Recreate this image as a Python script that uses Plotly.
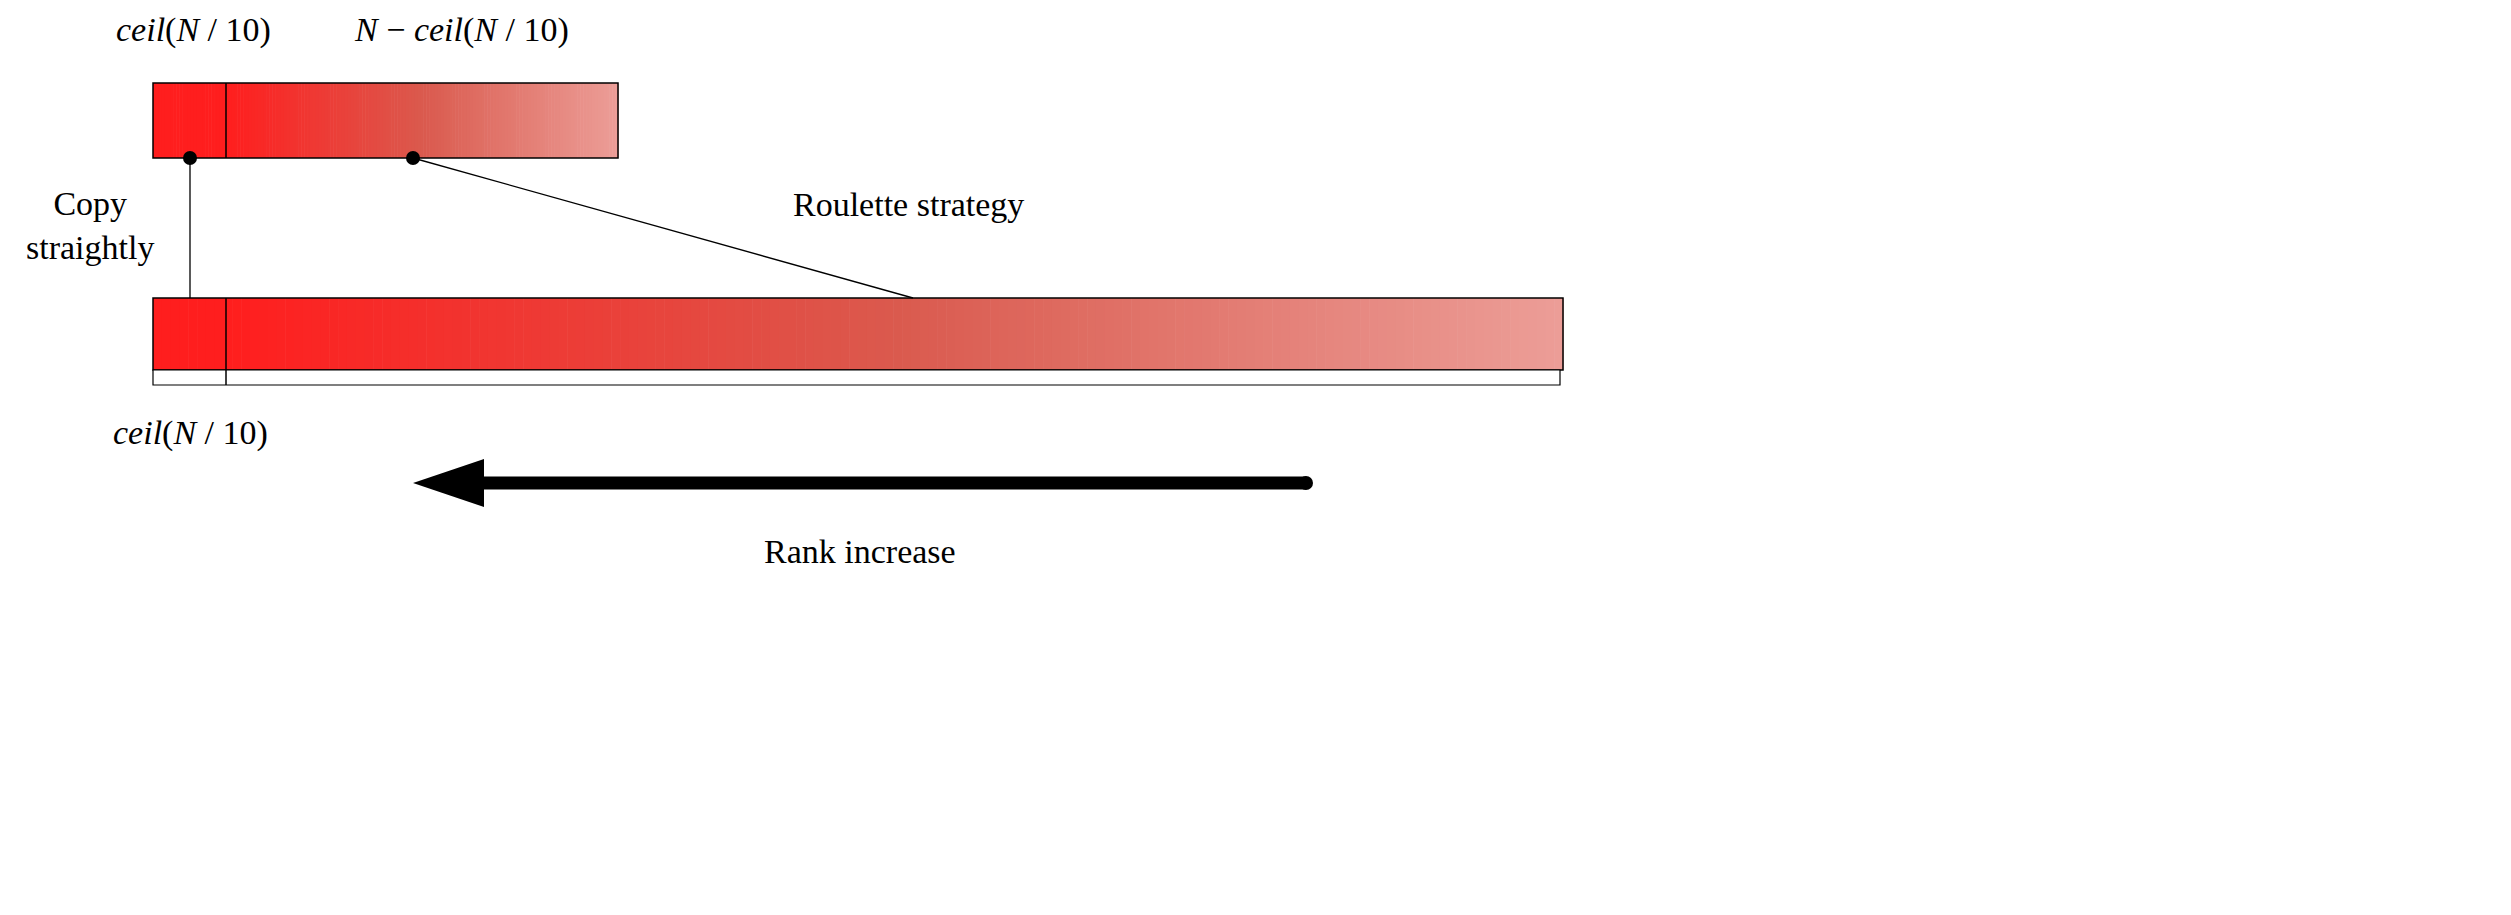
import plotly.graph_objects as go
import numpy as np

W, H = 2511, 915
top_bar = [145, 610, 75, 150]
bot_bar = [145, 1555, 290, 362]
strip = [145, 1552, 362, 377]
divider_x = 218
dots = [(182, 150), (405, 150)]
links = [((182, 150), (182, 290)), ((405, 150), (905, 290))]
labels = [
    ("<i>ceil</i>(<i>N</i> / 10)", 185, 22),
    ("<i>N</i> − <i>ceil</i>(<i>N</i> / 10)", 453, 22),
    ("Copy<br>straightly", 82, 217),
    ("Roulette strategy", 900, 196),
    ("<i>ceil</i>(<i>N</i> / 10)", 182, 425),
    ("Rank increase", 852, 543),
]
stops = [(0.0, (255, 30, 30)), (0.5, (218, 90, 78)), (1.0, (236, 158, 152))]

def col(t):
    for (a, ca), (b, cb) in zip(stops[:-1], stops[1:]):
        if t <= b:
            f = (t - a) / (b - a)
            c = [round(ca[i] + f * (cb[i] - ca[i])) for i in range(3)]
            return f"rgb({c[0]},{c[1]},{c[2]})"
    return "rgb(236,158,152)"

shapes = []
def grad(b):
    x0, x1, y0, y1 = b
    # solid section then gradient
    n = 160
    xs = np.linspace(x0, x1, n + 1)
    for i in range(n):
        t = max(0.0, (xs[i] - divider_x) / (x1 - divider_x))
        shapes.append(dict(type="rect", x0=xs[i], x1=xs[i + 1] + 0.6, y0=y0, y1=y1,
                           fillcolor=col(t), line=dict(width=0), layer="below"))
    shapes.append(dict(type="rect", x0=x0, x1=x1, y0=y0, y1=y1, line=dict(color="black", width=1.5)))
    shapes.append(dict(type="line", x0=divider_x, x1=divider_x, y0=y0, y1=y1, line=dict(color="black", width=1.5)))

grad(top_bar)
grad(bot_bar)
shapes.append(dict(type="rect", x0=strip[0], x1=strip[1], y0=strip[2], y1=strip[3], fillcolor="white",
                   line=dict(color="black", width=1.2)))
shapes.append(dict(type="line", x0=divider_x, x1=divider_x, y0=strip[2], y1=strip[3], line=dict(color="black", width=1.5)))
for (a, b) in links:
    shapes.append(dict(type="line", x0=a[0], y0=a[1], x1=b[0], y1=b[1], line=dict(color="black", width=1.3)))
for (x, y) in dots:
    shapes.append(dict(type="circle", x0=x - 7, x1=x + 7, y0=y - 7, y1=y + 7, fillcolor="black", line=dict(width=0)))
# arrow
shapes.append(dict(type="line", x0=470, x1=1298, y0=475, y1=475, line=dict(color="black", width=13)))
shapes.append(dict(type="circle", x0=1291, x1=1305, y0=468, y1=482, fillcolor="black", line=dict(width=0)))
shapes.append(dict(type="path", path="M 405 475 L 476 451 L 476 499 Z", fillcolor="black", line=dict(width=0)))

fig = go.Figure()
fig.add_trace(go.Scatter(x=[0, W], y=[0, H], mode="markers", marker=dict(opacity=0), hoverinfo="skip"))
ann = [dict(text=t, x=x, y=y, showarrow=False, font=dict(family="Liberation Serif", size=34, color="black"))
       for t, x, y in labels]
fig.update_layout(width=W, height=H, margin=dict(l=0, r=0, t=0, b=0), plot_bgcolor="white",
                  paper_bgcolor="white", showlegend=False, shapes=shapes, annotations=ann,
                  xaxis=dict(range=[0, W], visible=False),
                  yaxis=dict(range=[H, 0], visible=False))
fig.write_html("out.html")
